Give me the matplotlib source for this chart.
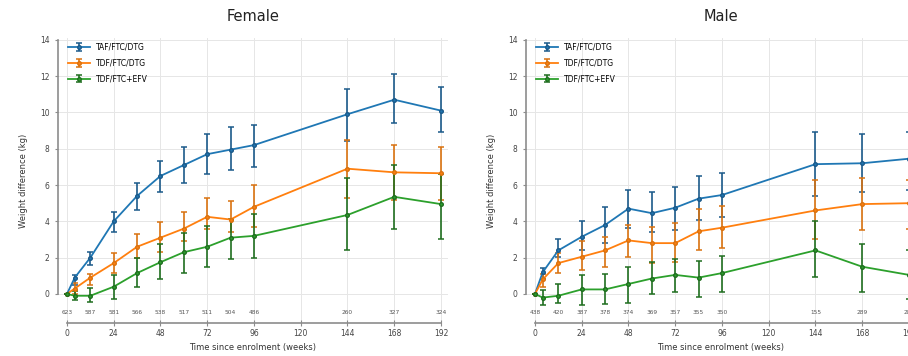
import matplotlib
matplotlib.use("Agg")
import matplotlib.pyplot as plt
import numpy as np

weeks = [0, 4, 12, 24, 36, 48, 60, 72, 84, 96, 144, 168, 192]
regimens = ["TAF/FTC/DTG", "TDF/FTC/DTG", "TDF/FTC+EFV"]
colors = ["#1f77b4", "#ff7f0e", "#2ca02c"]
ecolors = ["#1b5a8a", "#d9720f", "#1f6e1f"]

# Female
f_taf = [0, 0.9, 2.0, 4.0, 5.4, 6.5, 7.1, 7.7, 7.95, 8.2, 9.9, 10.7, 10.1]
f_taf_lo = [0, 0.5, 1.6, 3.4, 4.6, 5.6, 6.1, 6.6, 6.85, 7.0, 8.4, 9.4, 8.9]
f_taf_hi = [0, 1.05, 2.3, 4.5, 6.1, 7.35, 8.1, 8.8, 9.2, 9.3, 11.3, 12.1, 11.4]
f_tdf = [0, 0.3, 0.9, 1.7, 2.6, 3.1, 3.6, 4.25, 4.1, 4.8, 6.9, 6.7, 6.65]
f_tdf_lo = [0, 0.0, 0.5, 1.15, 2.0, 2.3, 2.9, 3.6, 3.4, 3.7, 5.3, 5.2, 5.2]
f_tdf_hi = [0, 0.6, 1.1, 2.25, 3.3, 3.95, 4.5, 5.3, 5.1, 6.0, 8.5, 8.2, 8.1]
f_efv = [0, -0.1, -0.1, 0.4, 1.15, 1.75, 2.3, 2.6, 3.1, 3.2, 4.35, 5.35, 4.95]
f_efv_lo = [0, -0.35, -0.45, -0.3, 0.4, 0.8, 1.15, 1.5, 1.95, 2.0, 2.4, 3.6, 3.0]
f_efv_hi = [0, 0.15, 0.35, 1.05, 2.0, 2.75, 3.35, 3.75, 4.15, 4.4, 6.4, 7.1, 6.6]
f_n_weeks = [0, 12, 24, 36, 48, 60, 72, 84, 96, 144, 168, 192]
f_n = ["623", "587", "581", "566", "538", "517", "511", "504", "486", "260", "327", "324"]

# Male
m_taf = [0, 1.2, 2.4, 3.15, 3.8, 4.7, 4.45, 4.75, 5.25, 5.45, 7.15, 7.2, 7.45]
m_taf_lo = [0, 0.8, 2.05, 2.4, 2.8, 3.65, 3.4, 3.55, 4.1, 4.25, 5.4, 5.6, 5.7]
m_taf_hi = [0, 1.45, 3.0, 4.0, 4.8, 5.7, 5.6, 5.9, 6.5, 6.65, 8.9, 8.8, 8.9]
m_tdf = [0, 0.8, 1.7, 2.05, 2.4, 2.95, 2.8, 2.8, 3.45, 3.65, 4.6, 4.95, 5.0]
m_tdf_lo = [0, 0.4, 1.15, 1.3, 1.5, 2.05, 1.7, 1.75, 2.4, 2.55, 3.0, 3.5, 3.6]
m_tdf_hi = [0, 1.1, 2.25, 2.9, 3.15, 3.8, 3.7, 3.9, 4.7, 4.85, 6.3, 6.4, 6.3]
m_efv = [0, -0.2, -0.1, 0.25, 0.25, 0.55, 0.85, 1.05, 0.9, 1.15, 2.4, 1.5, 1.05]
m_efv_lo = [0, -0.6, -0.5, -0.6, -0.55, -0.5, 0.0, 0.1, -0.15, 0.1, 0.95, 0.1, -0.3]
m_efv_hi = [0, 0.2, 0.55, 1.05, 1.1, 1.5, 1.75, 1.95, 1.8, 2.1, 4.0, 2.75, 2.4]
m_n_weeks = [0, 12, 24, 36, 48, 60, 72, 84, 96, 144, 168, 192]
m_n = ["438", "420", "387", "378", "374", "369", "357", "355", "350", "155", "289", "287"]

x_ticks = [0, 24, 48, 72, 96, 120, 144, 168, 192]
y_ticks = [0, 2, 4, 6, 8, 10, 12, 14]

panels = [
    ("Female", [(f_taf, f_taf_lo, f_taf_hi), (f_tdf, f_tdf_lo, f_tdf_hi), (f_efv, f_efv_lo, f_efv_hi)], f_n_weeks, f_n),
    ("Male", [(m_taf, m_taf_lo, m_taf_hi), (m_tdf, m_tdf_lo, m_tdf_hi), (m_efv, m_efv_lo, m_efv_hi)], m_n_weeks, m_n),
]

W, H = 908, 356
fig = plt.figure(figsize=(W / 100, H / 100), dpi=100)
lefts_px = [58, 526]
ax_w_px = 390
ax_top_px, ax_bot_px = 38, 323

for (title, series, nweeks, nlabels), lpx in zip(panels, lefts_px):
    ax = fig.add_axes([lpx / W, (H - ax_bot_px) / H, ax_w_px / W, (ax_bot_px - ax_top_px) / H])
    ax.set_xlim(-4.6, 195.6)
    ax.set_ylim(-1.6, 14.1)
    for (vals, lo, hi), name, c, ec in zip(series, regimens, colors, ecolors):
        v = np.array(vals); l = np.array(lo); h = np.array(hi)
        ax.errorbar(weeks, v, yerr=[v - l, h - v], color=c, ecolor=ec,
                    elinewidth=1.2, capsize=2, capthick=1.1, marker="o",
                    markersize=2.6, markeredgecolor=ec, linewidth=1.3,
                    label=name, zorder=3)
    for xw, lab in zip(nweeks, nlabels):
        ax.text(xw, -1.0, lab, ha="center", va="center", fontsize=4.2, color="#555555")
    ax.set_xticks(x_ticks)
    ax.set_yticks(y_ticks)
    ax.grid(True, color="#e6e6e6", linewidth=0.7, zorder=0)
    ax.set_axisbelow(True)
    for s in ["top", "right"]:
        ax.spines[s].set_visible(False)
    ax.spines["left"].set_bounds(0, 14)
    ax.spines["bottom"].set_bounds(0, 192)
    for s in ["left", "bottom"]:
        ax.spines[s].set_color("#8c8c8c")
        ax.spines[s].set_linewidth(1.2)
    ax.tick_params(axis="both", labelsize=5.5, colors="#8c8c8c", labelcolor="#444444",
                   length=2.5, width=0.8)
    ax.tick_params(axis="x", direction="inout", length=4, pad=2)
    ax.set_title(title, fontsize=10.5, color="#222222", pad=12)
    ax.set_xlabel("Time since enrolment (weeks)", fontsize=6, color="#333333", labelpad=4)
    ax.set_ylabel("Weight difference (kg)", fontsize=6, color="#333333", labelpad=9)
    ax.legend(loc="upper left", bbox_to_anchor=(0.015, 1.0), fontsize=5.5, frameon=False,
              handlelength=2.8, labelspacing=0.9, borderaxespad=0.2)

fig.savefig("out.png", dpi=100)
